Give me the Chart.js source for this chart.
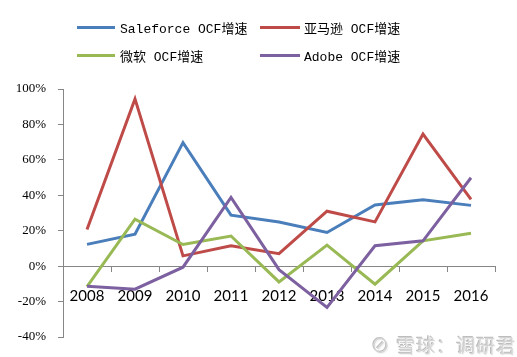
<!DOCTYPE html>
<html>
<head>
<meta charset="utf-8">
<script src="https://cdn.jsdelivr.net/npm/chart.js@4"></script>
<style>
  html, body { margin: 0; padding: 0; background: #fff; }
  #wrap { position: relative; width: 517px; height: 357px; overflow: hidden; }
  #c { position: absolute; left: 0; top: 0; }
  .lg { position: absolute; font: 13px "Liberation Mono", "Noto Sans CJK SC", monospace; color: #000; white-space: pre; line-height: 16px; }
  .ln { position: absolute; height: 3px; }
  #wm { position: absolute; left: 371px; top: 331px; font: 19px "Noto Sans CJK SC", sans-serif; color: #d4d4d4; text-shadow: 1px 1px 0 #f4f4f4, -1px -1px 0 #bdbdbd; letter-spacing: 1px; white-space: pre; }
</style>
</head>
<body>
<div id="wrap">
  <canvas id="c" width="517" height="357"></canvas>
  <div id="wm">⊘ 雪球：调研君</div>
</div>
<script>
const years = ["2008", "2009", "2010", "2011", "2012", "2013", "2014", "2015", "2016"];
const seriesNames = ["Saleforce OCF增速", "亚马逊 OCF增速", "微软 OCF增速", "Adobe OCF增速"];
const seriesColors = ["#4A7EBB", "#BE4B48", "#98B954", "#7D60A0"];
const salesforce = [12.3, 18.0, 69.7, 28.8, 24.9, 19.0, 34.5, 37.5, 34.3];
const amazon = [20.7, 94.4, 5.8, 11.5, 7.0, 31.0, 25.0, 74.6, 37.7];
const microsoft = [-11.5, 26.5, 12.2, 17.0, -8.9, 11.9, -10.2, 14.3, 18.6];
const adobe = [-11.3, -13.0, -0.6, 38.8, -2.0, -23.3, 11.5, 14.3, 49.9];
const yTickValues = [-40, -20, 0, 20, 40, 60, 80, 100];
const yTickLabels = ["-40%", "-20%", "0%", "20%", "40%", "60%", "80%", "100%"];

const seriesData = [salesforce, amazon, microsoft, adobe];

// HTML legend (2 x 2 grid)
const wrap = document.getElementById('wrap');
const legendPos = [[77, 20], [260, 20], [77, 47.5], [260, 47.5]];
seriesNames.forEach((name, i) => {
  const [lx, ly] = legendPos[i];
  const ln = document.createElement('div');
  ln.className = 'ln';
  ln.style.left = lx + 'px';
  ln.style.top = (ly + 6) + 'px';
  ln.style.width = (i % 2 === 0 ? 38 : 40) + 'px';
  ln.style.background = seriesColors[i];
  wrap.appendChild(ln);
  const t = document.createElement('div');
  t.className = 'lg';
  t.style.left = (lx + (i % 2 === 0 ? 43 : 44)) + 'px';
  t.style.top = (ly + 2) + 'px';
  t.textContent = name;
  wrap.appendChild(t);
});

const datasets = seriesNames.map((name, i) => ({
  label: name,
  data: seriesData[i],
  borderColor: seriesColors[i],
  backgroundColor: seriesColors[i],
  borderWidth: 3,
  pointRadius: 0,
  pointHoverRadius: 0,
  tension: 0,
  fill: false,
  clip: false,
  order: 4 - i
}));

new Chart(document.getElementById('c'), {
  type: 'line',
  data: { labels: years, datasets },
  options: {
    responsive: false,
    animation: false,
    devicePixelRatio: 1,
    layout: { padding: { top: 89, bottom: 20, left: 0, right: 22 } },
    plugins: { legend: { display: false }, tooltip: { enabled: false } },
    scales: {
      x: {
        type: 'category',
        position: { y: 0 },
        offset: true,
        afterFit: (s) => { s.height = 0; },
        grid: { offset: true, drawOnChartArea: false, drawTicks: true, tickLength: 5, color: '#868686', lineWidth: 1 },
        border: { display: true, color: '#868686', width: 1 },
        ticks: { color: '#000', padding: 16, font: { family: 'Lato', size: 15 }, maxRotation: 0, autoSkip: false }
      },
      y: {
        min: -40,
        max: 100,
        afterFit: (s) => { s.width = 63; },
        afterBuildTicks: (s) => { s.ticks = yTickValues.map(v => ({ value: v })); },
        grid: { drawOnChartArea: false, drawTicks: true, tickLength: 5, color: '#868686', lineWidth: 1 },
        border: { display: true, color: '#868686', width: 1 },
        ticks: {
          color: '#000',
          padding: 12,
          font: { family: 'Liberation Serif', size: 13 },
          callback: (v) => { const k = yTickValues.indexOf(v); return k >= 0 ? yTickLabels[k] : ''; }
        }
      }
    }
  }
});
</script>
</body>
</html>
